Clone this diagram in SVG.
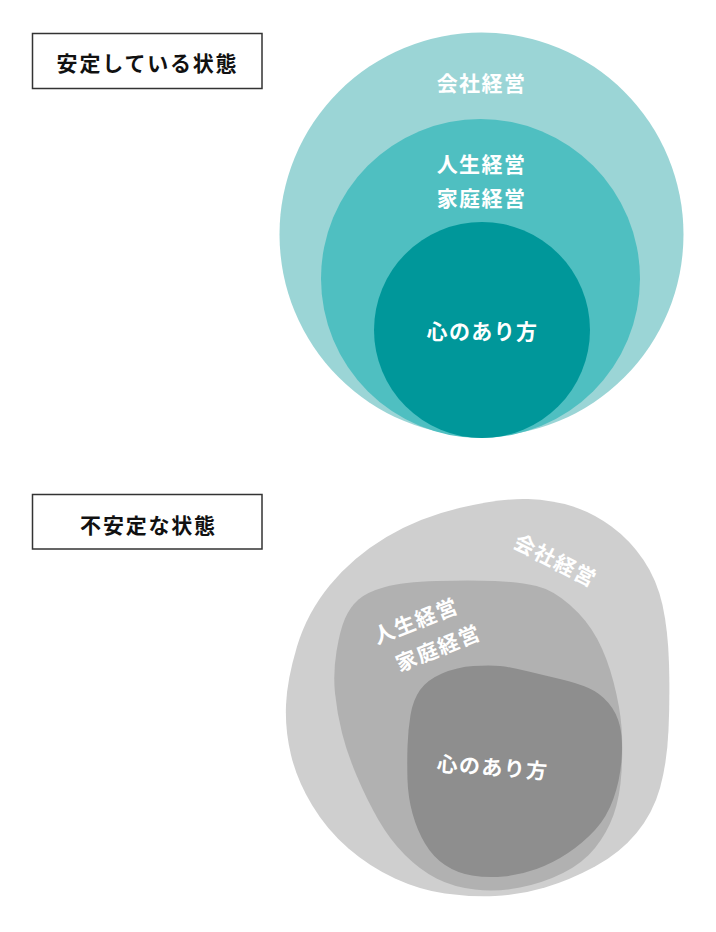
<svg xmlns="http://www.w3.org/2000/svg" width="716" height="932" viewBox="0 0 716 932">
<style>
.lbl{font-family:"Noto Sans CJK JP","Noto Sans",sans-serif;font-size:21px;font-weight:700;fill:#111;letter-spacing:1.8px;text-anchor:middle}
.w{font-family:"Noto Sans CJK JP","Noto Sans",sans-serif;font-size:21px;font-weight:700;fill:#fff;letter-spacing:1.4px;text-anchor:middle}
.box{fill:#fff;stroke:#333;stroke-width:1.5}
</style>
<rect width="716" height="932" fill="#fff"/>
<g id="label-stable">
<rect class="box" x="32.5" y="33.5" width="229.5" height="55"/>
<text class="lbl" x="147.5" y="70.5">安定している状態</text>
</g>
<g id="stable-company">
<circle cx="481.5" cy="234.5" r="202" fill="#9BD5D6"/>
<text class="w" x="481.5" y="90.5">会社経営</text>
</g>
<g id="stable-life">
<circle cx="480.5" cy="278.5" r="159.5" fill="#4FBFC1"/>
<text class="w" x="481.5" y="171.5">人生経営</text>
<text class="w" x="481.5" y="205.5">家庭経営</text>
</g>
<g id="stable-mind">
<circle cx="482" cy="330" r="108" fill="#00979A"/>
<text class="w" x="482.5" y="339">心のあり方</text>
</g>
<g id="label-unstable">
<rect class="box" x="32.5" y="494.5" width="229.5" height="54.5"/>
<text class="lbl" x="148.5" y="532.5">不安定な状態</text>
</g>
<g id="unstable-company">
<path fill="#CFCFCF" d="M528,499 Q503,498 461.5,507.5 Q420,517 386.5,537 Q353,557 330,585 Q307,613 297,646.5 Q287,680 286,705 Q285,730 291,755 Q297,780 312,805 Q327,830 348.5,848.5 Q370,867 395,878.5 Q420,890 445,893.5 Q470,897 495,896 Q520,895 545,887.5 Q570,880 595,866.5 Q620,853 636.5,833 Q653,813 660,788 Q667,763 668.5,730 Q670,697 669,663.5 Q668,630 662.5,605 Q657,580 643.5,560 Q630,540 611.5,526.5 Q593,513 573,506.5 Q553,500 528,499 Z"/>
<text class="w" transform="translate(555,560) rotate(27)" x="0.7" y="8">会社経営</text>
</g>
<g id="unstable-life">
<path fill="#B1B1B1" d="M358.5,599.5 Q367,592 385,587 Q403,582 436.5,581 Q470,580 495,581 Q520,582 536.5,586 Q553,590 570,605 Q587,620 597,638.5 Q607,657 613.5,682 Q620,707 621.5,727 Q623,747 621.5,772 Q620,797 613.5,815 Q607,833 595,848 Q583,863 563,873 Q543,883 520,887.5 Q497,892 475,889.5 Q453,887 436.5,878.5 Q420,870 405,855 Q390,840 378.5,820 Q367,800 357,776.5 Q347,753 342,733 Q337,713 335,693 Q333,673 336.5,651.5 Q340,630 345,618.5 Q350,607 358.5,599.5 Z"/>
<text class="w" transform="translate(415,621) rotate(-21.5)" x="0.7" y="8">人生経営</text>
<text class="w" transform="translate(437.5,648) rotate(-22)" x="0.7" y="8">家庭経営</text>
</g>
<g id="unstable-mind">
<path fill="#8E8E8E" d="M473.5,666 Q490,665 500,666 Q510,667 526.5,671 Q543,675 560,679 Q577,683 588.5,688 Q600,693 608.5,703 Q617,713 620,726.5 Q623,740 621.5,760 Q620,780 613.5,798.5 Q607,817 595,830 Q583,843 568,853 Q553,863 536.5,869 Q520,875 503.5,876.5 Q487,878 472,875.5 Q457,873 445,865 Q433,857 425,843.5 Q417,830 412.5,813.5 Q408,797 407.5,780 Q407,763 407.5,746.5 Q408,730 410.5,715 Q413,700 420,690 Q427,680 442,673.5 Q457,667 473.5,666 Z"/>
<text class="w" transform="translate(492,767) rotate(4.2)" x="0.7" y="8">心のあり方</text>
</g>
<g id="connectors"></g>
</svg>
